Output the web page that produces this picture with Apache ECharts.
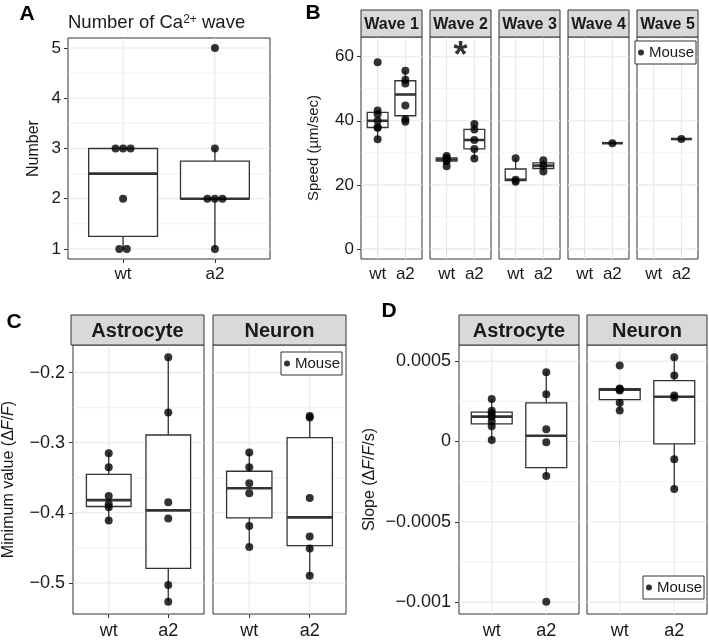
<!DOCTYPE html>
<html><head><meta charset="utf-8">
<script src="https://cdn.jsdelivr.net/npm/echarts@6/dist/echarts.min.js"></script>
<style>html,body{margin:0;padding:0;background:#fff}#c{width:709px;height:640px}</style>
</head><body><div id="c"></div>
<script>
// ---------------- data ----------------
const groups = ['wt', 'a2'];
// Panel A: number of Ca2+ waves per mouse
const waveCountWt = [1, 1, 2, 3, 3, 3];
const waveCountA2 = [1, 2, 2, 2, 3, 5];
const waveCountTicks = [1, 2, 3, 4, 5];
// Panel B: wave speed (µm/sec)
const waveNames = ['Wave 1', 'Wave 2', 'Wave 3', 'Wave 4', 'Wave 5'];
const speedWt = [[34.2, 37.8, 38.0, 40.0, 42.0, 43.2, 58.3], [25.8, 27.4, 27.9, 28.4, 29.0], [21.0, 21.6, 28.3], [], []];
const speedA2 = [[39.7, 40.5, 44.8, 51.6, 52.8, 55.6], [28.2, 31.2, 34.0, 37.3, 39.0], [24.2, 26.0, 27.7], [33.0], [34.3]];
const speedTicks = [0, 20, 40, 60];
const speedSignif = [null, 63, null, null, null];
const speedExtraLimits = [0, 63];
// Panel C: minimum value (dF/F)
const cellTypes = ['Astrocyte', 'Neuron'];
const minValueWt = [[-0.411, -0.392, -0.388, -0.376, -0.335, -0.315], [-0.449, -0.419, -0.372, -0.358, -0.335, -0.314]];
const minValueA2 = [[-0.527, -0.503, -0.408, -0.385, -0.257, -0.178], [-0.490, -0.451, -0.434, -0.379, -0.264, -0.262]];
const minValueTicks = [-0.5, -0.4, -0.3, -0.2];
// Panel D: slope (dF/F/s)
const slopeWt = [[0.00001, 0.000095, 0.000125, 0.000155, 0.000175, 0.000192, 0.000265], [0.000194, 0.000242, 0.000318, 0.000326, 0.000331, 0.000474]];
const slopeA2 = [[-0.000998, -0.000215, -0.000004, 0.0000765, 0.000295, 0.000432], [-0.000295, -0.00011, 0.000272, 0.000286, 0.000411, 0.000525]];
const slopeTicks = [-0.001, -0.0005, 0, 0.0005];

// ---------------- style / layout ----------------
const FONT = "'Liberation Sans', Arial, Helvetica, sans-serif";
const INK = '#1a1a1a', FRAME = '#333333', GRIDC = '#e8e8e8', STRIP = '#d9d9d9';
const LAY = {
  A: { x: 68, y: 38, w: 202, h: 221 },
  B: { xs: [361, 430, 499, 568, 637], y: 37, w: 61, h: 222, stripY: 10, stripH: 27 },
  C: { xs: [71, 213], y: 345, w: 133, h: 270, stripY: 315, stripH: 30 },
  D: { xs: [459, 587], y: 345, w: 120, h: 270, stripY: 315, stripH: 30 }
};

function q7(s, p) { const h = (s.length - 1) * p, lo = Math.floor(h), hi = Math.ceil(h); return s[lo] + (h - lo) * (s[hi] - s[lo]); }
function boxStats(vals) {
  const s = [...vals].sort((a, b) => a - b);
  const q1 = q7(s, 0.25), med = q7(s, 0.5), q3 = q7(s, 0.75), iqr = q3 - q1;
  const lo = s.find(v => v >= q1 - 1.5 * iqr - 1e-12);
  const hi = [...s].reverse().find(v => v <= q3 + 1.5 * iqr + 1e-12);
  return [lo, q1, med, q3, hi];
}
function expandRange(vals) { const mn = Math.min(...vals), mx = Math.max(...vals), d = (mx - mn) * 0.05; return [mn - d, mx + d]; }
function minorOf(ticks, range) {
  const out = [], step = ticks[1] - ticks[0];
  for (let i = -1; i < ticks.length; i++) { const m = ticks[0] + (i + 0.5) * step; if (m > range[0] && m < range[1]) out.push(m); }
  return out;
}
const minus = s => String(s).replace('-', '\u2212');

function gridRender(params, api) {
  const cs = params.coordSys, kind = api.value(2), p = api.coord([api.value(0), api.value(1)]);
  const style = { stroke: GRIDC, lineWidth: kind === 1 ? 0.6 : 1.1 };
  if (kind === 2) return { type: 'line', shape: { x1: p[0], y1: cs.y, x2: p[0], y2: cs.y + cs.height }, style };
  return { type: 'line', shape: { x1: cs.x, y1: p[1], x2: cs.x + cs.width, y2: p[1] }, style };
}
function boxRender(params, api) {
  const x = api.value(0), c = v => api.coord([x, v]);
  const hw = api.size([0.75, 0])[0] / 2;
  const lo = c(api.value(1)), q1 = c(api.value(2)), md = c(api.value(3)), q3 = c(api.value(4)), hi = c(api.value(5));
  const st = { stroke: FRAME, lineWidth: 1.3, fill: null };
  return { type: 'group', children: [
    { type: 'line', shape: { x1: lo[0], y1: lo[1], x2: q1[0], y2: q1[1] }, style: st },
    { type: 'line', shape: { x1: q3[0], y1: q3[1], x2: hi[0], y2: hi[1] }, style: st },
    { type: 'rect', shape: { x: q1[0] - hw, y: q3[1], width: 2 * hw, height: q1[1] - q3[1] }, style: { stroke: FRAME, lineWidth: 1.3, fill: '#fff' } },
    { type: 'line', shape: { x1: md[0] - hw, y1: md[1], x2: md[0] + hw, y2: md[1] }, style: { stroke: FRAME, lineWidth: 2.6 } }
  ] };
}

const option = { animation: false, textStyle: { fontFamily: FONT }, grid: [], xAxis: [], yAxis: [], series: [], graphic: [], legend: [] };

function addPanel(p) {
  const gi = option.grid.length;
  option.grid.push({ left: p.rect.x, top: p.rect.y, width: p.rect.w, height: p.rect.h, show: true, borderColor: FRAME, borderWidth: 1, backgroundColor: '#fff' });
  option.xAxis.push({ type: 'value', gridIndex: gi, min: 0.4, max: 2.6, axisLine: { show: false }, splitLine: { show: false },
    axisTick: { show: true, customValues: [1, 2], length: 4, lineStyle: { color: FRAME } },
    axisLabel: { customValues: [1, 2], formatter: v => groups[Math.round(v) - 1] || '', fontSize: p.xFont, color: INK, margin: p.xMargin } });
  option.yAxis.push({ type: 'value', gridIndex: gi, min: p.range[0], max: p.range[1], axisLine: { show: false }, splitLine: { show: false },
    axisTick: { show: p.showY, customValues: p.ticks, length: 4, lineStyle: { color: FRAME } },
    axisLabel: { show: p.showY, customValues: p.ticks, formatter: p.fmt, fontSize: p.yFont, color: INK, margin: p.yMargin },
    name: p.yName || '', nameLocation: 'middle', nameGap: p.yNameGap || 0, nameRotate: 90,
    nameTextStyle: { fontSize: p.yNameFont, color: INK, rich: p.yNameRich } });
  const gl = [];
  p.ticks.forEach(t => gl.push([1, t, 0]));
  minorOf(p.ticks, p.range).forEach(t => gl.push([1, t, 1]));
  [1, 2].forEach(x => gl.push([x, (p.range[0] + p.range[1]) / 2, 2]));
  option.series.push({ type: 'custom', xAxisIndex: gi, yAxisIndex: gi, data: gl, z: 1, silent: true, renderItem: gridRender, encode: { x: 0, y: 1 } });
  const bx = [];
  [p.wt, p.a2].forEach((vals, i) => { if (vals.length) bx.push([i + 1, ...boxStats(vals)]); });
  option.series.push({ type: 'custom', xAxisIndex: gi, yAxisIndex: gi, data: bx, z: 2, silent: true, renderItem: boxRender, encode: { x: 0, y: [1, 2, 3, 4, 5] } });
  const pts = [];
  [p.wt, p.a2].forEach((vals, i) => {
    const cnt = {}, seen = {};
    vals.forEach(v => { cnt[v] = (cnt[v] || 0) + 1; });
    vals.forEach(v => {
      const j = (seen[v] = seen[v] === undefined ? 0 : seen[v] + 1);
      const off = p.dodge ? (j - (cnt[v] - 1) / 2) * p.dodge : 0;
      pts.push({ value: [i + 1, v], symbolOffset: [off, 0] });
    });
  });
  option.series.push({ type: 'scatter', name: 'Mouse', xAxisIndex: gi, yAxisIndex: gi, data: pts, symbol: 'circle', symbolSize: 8, itemStyle: { color: '#000' }, z: 3, silent: true });
  if (p.sig != null) {
    option.series.push({ type: 'scatter', name: 'signif', xAxisIndex: gi, yAxisIndex: gi, data: [[1.5, p.sig]], symbolSize: 1, itemStyle: { color: 'rgba(0,0,0,0)' },
      label: { show: true, formatter: '*', fontSize: 36, fontWeight: 'bold', color: '#000', position: 'inside', offset: [0, 10] }, z: 4, silent: true });
  }
  if (p.strip) {
    const s = p.strip;
    option.graphic.push({ type: 'rect', shape: { x: p.rect.x, y: s.y, width: p.rect.w, height: s.h }, style: { fill: STRIP, stroke: FRAME, lineWidth: 1 }, z: 10 });
    option.graphic.push({ type: 'text', x: p.rect.x + p.rect.w / 2, y: s.y + s.h / 2 + 1, style: { text: s.text, fontSize: s.font, fontWeight: 'bold', fontFamily: FONT, fill: INK, align: 'center', verticalAlign: 'middle' }, z: 11 });
  }
}

// Panel A
addPanel({ rect: LAY.A, range: expandRange([...waveCountWt, ...waveCountA2]), ticks: waveCountTicks, fmt: v => String(v),
  showY: true, yFont: 17, xFont: 17, yMargin: 7, xMargin: 7, yName: 'Number', yNameGap: 26, yNameFont: 16,
  wt: waveCountWt, a2: waveCountA2, dodge: 7.5 });
// Panel B
const speedRange = expandRange([...speedWt.flat(), ...speedA2.flat(), ...speedExtraLimits]);
waveNames.forEach((nm, i) => {
  addPanel({ rect: { x: LAY.B.xs[i], y: LAY.B.y, w: LAY.B.w, h: LAY.B.h }, range: speedRange, ticks: speedTicks, fmt: v => String(v),
    showY: i === 0, yFont: 17, xFont: 17, yMargin: 7, xMargin: 7,
    yName: i === 0 ? 'Speed (\u00b5m/sec)' : '', yNameGap: 40, yNameFont: 15,
    wt: speedWt[i], a2: speedA2[i], sig: speedSignif[i], strip: { y: LAY.B.stripY, h: LAY.B.stripH, text: nm, font: 16 } });
});
// Panel C
const minRange = expandRange([...minValueWt.flat(), ...minValueA2.flat()]);
cellTypes.forEach((nm, i) => {
  addPanel({ rect: { x: LAY.C.xs[i], y: LAY.C.y, w: LAY.C.w, h: LAY.C.h }, range: minRange, ticks: minValueTicks, fmt: v => minus(v.toFixed(1)),
    showY: i === 0, yFont: 18, xFont: 18, yMargin: 8, xMargin: 8,
    yName: i === 0 ? 'Minimum value (\u0394{i|F}/{i|F})' : '', yNameGap: 56, yNameFont: 16,
    yNameRich: { i: { fontStyle: 'italic', fontSize: 16, color: INK } },
    wt: minValueWt[i], a2: minValueA2[i], strip: { y: LAY.C.stripY, h: LAY.C.stripH, text: nm, font: 20 } });
});
// Panel D
const slopeRange = expandRange([...slopeWt.flat(), ...slopeA2.flat()]);
cellTypes.forEach((nm, i) => {
  addPanel({ rect: { x: LAY.D.xs[i], y: LAY.D.y, w: LAY.D.w, h: LAY.D.h }, range: slopeRange, ticks: slopeTicks, fmt: v => minus(v),
    showY: i === 0, yFont: 18, xFont: 18, yMargin: 8, xMargin: 8,
    yName: i === 0 ? 'Slope (\u0394{i|F}/{i|F}/s)' : '', yNameGap: 81, yNameFont: 16,
    yNameRich: { i: { fontStyle: 'italic', fontSize: 16, color: INK } },
    wt: slopeWt[i], a2: slopeA2[i], strip: { y: LAY.D.stripY, h: LAY.D.stripH, text: nm, font: 20 } });
});

// legends
function legendAt(left, top) {
  return { data: ['Mouse'], left, top, icon: 'circle', itemWidth: 6, itemHeight: 6, padding: [4, 2, 4, 3], borderColor: FRAME, borderWidth: 1,
    backgroundColor: '#fff', textStyle: { fontSize: 15, color: INK, fontFamily: FONT }, selectedMode: false, z: 20 };
}
option.legend.push(legendAt(635, 41), legendAt(281, 352), legendAt(643, 576));

// panel letters and title
[['A', 27, 14], ['B', 313, 13], ['C', 14, 322], ['D', 389, 311]].forEach(([t, x, y]) => {
  option.graphic.push({ type: 'text', x, y, style: { text: t, fontSize: 21, fontWeight: 'bold', fontFamily: FONT, fill: '#000', align: 'center', verticalAlign: 'middle' }, z: 12 });
});
option.graphic.push({ type: 'text', x: 68, y: 23, style: { text: 'Number of Ca{s|2+} wave', fontSize: 18.5, fontFamily: FONT, fill: INK, align: 'left', verticalAlign: 'middle',
  rich: { s: { fontSize: 12, verticalAlign: 'top', fontFamily: FONT, fill: INK } } }, z: 12 });

const chart = echarts.init(document.getElementById('c'), null, { renderer: 'canvas' });
chart.setOption(option);
</script>
</body></html>
